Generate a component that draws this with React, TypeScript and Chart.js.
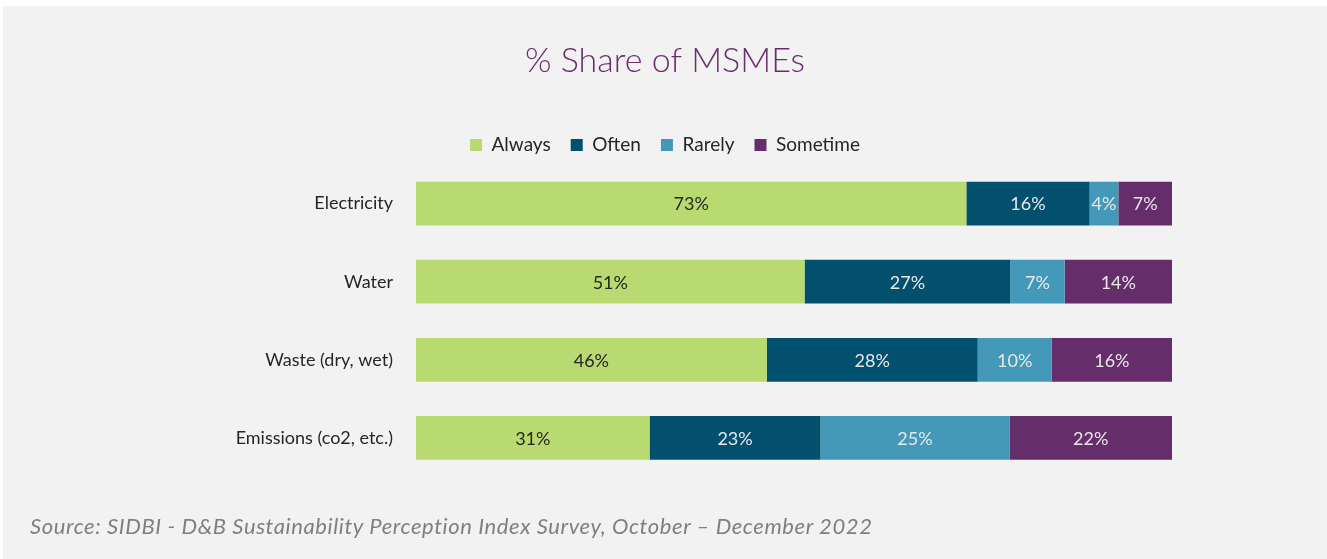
import React, { useEffect, useRef } from "react";
import { Chart, registerables } from "chart.js";

Chart.register(...registerables);

const categories = ["Electricity", "Water", "Waste (dry, wet)", "Emissions (co2, etc.)"];
const seriesNames = ["Always", "Often", "Rarely", "Sometime"];
const always = [72.8, 51.4, 46.4, 30.9];
const often = [16.3, 27.2, 27.9, 22.6];
const rarely = [3.8, 7.2, 9.8, 25.0];
const sometime = [7.1, 14.2, 15.9, 21.5];
const seriesColors = ["#b9d971", "#02506e", "#4499b8", "#652d6a"];
const valueLabelColors = ["#262626", "#e8e8e8", "#e8e8e8", "#e8e8e8"];
const titleText = "% Share of MSMEs";
const sourceText = "Source: SIDBI - D&B Sustainability Perception Index Survey, October \u2013 December 2022";

const FONT = "Lato, 'Open Sans', sans-serif";

const valueLabels = {
  id: "valueLabels",
  afterDatasetsDraw(chart: any) {
    const ctx = chart.ctx;
    ctx.save();
    ctx.font = `18px ${FONT}`;
    ctx.textAlign = "center";
    ctx.textBaseline = "middle";
    chart.data.datasets.forEach((ds: any, i: number) => {
      const meta = chart.getDatasetMeta(i);
      meta.data.forEach((el: any, j: number) => {
        const { x, y, base } = el.getProps(["x", "y", "base"], true);
        ctx.fillStyle = valueLabelColors[i];
        ctx.fillText(Math.round(ds.data[j]) + "%", (x + base) / 2, y + 1);
      });
    });
    ctx.restore();
  },
};

export default function App() {
  const canvasRef = useRef<HTMLCanvasElement | null>(null);

  useEffect(() => {
    document.body.style.margin = "0";
    const canvas = canvasRef.current;
    if (!canvas) return;
    const seriesData = [always, often, rarely, sometime];
    const chart = new Chart(canvas, {
      type: "bar",
      data: {
        labels: categories,
        datasets: seriesNames.map((name, i) => ({
          label: name,
          data: seriesData[i],
          backgroundColor: seriesColors[i],
          borderWidth: 0,
          categoryPercentage: 1,
          barPercentage: 0.56,
        })),
      },
      options: {
        indexAxis: "y",
        responsive: false,
        animation: false,
        layout: { padding: { left: 0, right: 0, top: 35, bottom: 82 } },
        scales: {
          x: {
            stacked: true,
            display: false,
            min: 0,
            max: 100,
          },
          y: {
            stacked: true,
            grid: { display: false },
            border: { display: false },
            ticks: {
              color: "#262626",
              font: { family: FONT, size: 18 },
              padding: 15,
            },
            afterFit(scale: any) {
              scale.width = 413;
            },
          },
          rightSpace: {
            type: "linear",
            position: "right",
            display: true,
            grid: { display: false },
            border: { display: false },
            ticks: { display: false },
            afterFit(scale: any) {
              scale.width = 155;
            },
          },
        },
        plugins: {
          title: {
            display: true,
            text: titleText,
            color: "#6b2d6e",
            font: { family: FONT, size: 34, weight: "300" as any },
            padding: { top: 0, bottom: 33.7 },
          },
          legend: {
            display: true,
            position: "top",
            labels: {
              boxWidth: 12,
              boxHeight: 12,
              padding: 20,
              color: "#262626",
              font: { family: FONT, size: 19 },
            },
          },
          tooltip: { enabled: false },
        },
      },
      plugins: [valueLabels],
    });
    return () => chart.destroy();
  }, []);

  return (
    <div style={{ position: "relative", width: 1327, height: 559, background: "#ffffff", overflow: "hidden" }}>
      <div style={{ position: "absolute", left: 3, top: 6, width: 1324, height: 553, background: "#f2f2f2" }}>
        <canvas ref={canvasRef} width={1324} height={553} style={{ display: "block" }} />
        <div
          style={{
            position: "absolute",
            left: 27,
            top: 506,
            fontFamily: FONT,
            fontStyle: "italic",
            fontSize: 22,
            letterSpacing: "0.6px",
            color: "#7f7f7f",
            whiteSpace: "nowrap",
          }}
        >
          {sourceText}
        </div>
      </div>
    </div>
  );
}
